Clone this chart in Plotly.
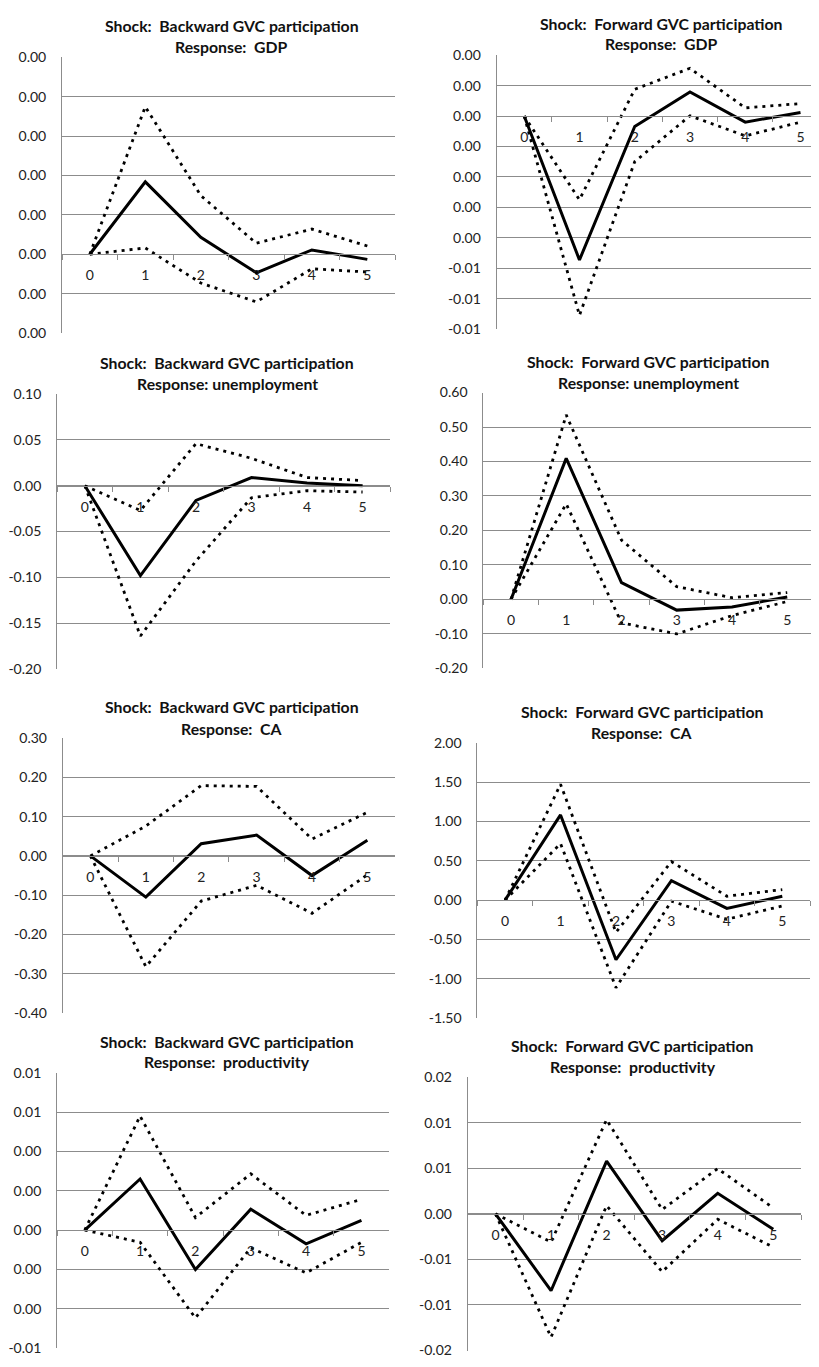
import plotly.graph_objects as go

# ---------------- data ----------------
periods = ["0", "1", "2", "3", "4", "5"]

# Backward GVC participation -> GDP
bwd_gdp_irf   = [0, 0.00092, 0.000215, -0.000235, 0.000055, -0.000065]
bwd_gdp_upper = [0, 0.001875, 0.000745, 0.00014, 0.00032, 0.000105]
bwd_gdp_lower = [0, 0.00008, -0.000365, -0.000605, -0.000185, -0.000225]
# Forward GVC participation -> GDP
fwd_gdp_irf   = [0, -0.00473, -0.00034, 0.00079, -0.0002, 0.00012]
fwd_gdp_upper = [0, -0.00275, 0.00088, 0.00157, 0.00027, 0.00041]
fwd_gdp_lower = [0, -0.00655, -0.0015, 0.00001, -0.00065, -0.0002]
# Backward -> unemployment
bwd_unemp_irf   = [0, -0.098, -0.016, 0.009, 0.003, 0.0]
bwd_unemp_upper = [0, -0.027, 0.046, 0.030, 0.009, 0.0057]
bwd_unemp_lower = [0, -0.164, -0.082, -0.013, -0.0054, -0.0068]
# Forward -> unemployment
fwd_unemp_irf   = [0, 0.409, 0.049, -0.031, -0.022, 0.007]
fwd_unemp_upper = [0, 0.535, 0.172, 0.037, 0.005, 0.02]
fwd_unemp_lower = [0, 0.277, -0.068, -0.10, -0.047, -0.006]
# Backward -> CA
bwd_ca_irf   = [0, -0.105, 0.031, 0.053, -0.050, 0.040]
bwd_ca_upper = [0, 0.076, 0.179, 0.177, 0.043, 0.111]
bwd_ca_lower = [0, -0.282, -0.115, -0.075, -0.146, -0.048]
# Forward -> CA
fwd_ca_irf   = [0, 1.085, -0.759, 0.247, -0.105, 0.05]
fwd_ca_upper = [0, 1.475, -0.41, 0.49, 0.05, 0.134]
fwd_ca_lower = [0, 0.72, -1.115, -0.013, -0.243, -0.075]
# Backward -> productivity
bwd_prod_irf   = [0, 0.0026, -0.002, 0.00106, -0.0007, 0.0005]
bwd_prod_upper = [0, 0.0058, 0.00064, 0.00286, 0.00075, 0.00156]
bwd_prod_lower = [0, -0.00062, -0.00447, -0.0009, -0.00218, -0.00062]
# Forward -> productivity
fwd_prod_irf   = [0, -0.00844, 0.00578, -0.00295, 0.00226, -0.0017]
fwd_prod_upper = [0, -0.0031, 0.01034, 0.00047, 0.00496, 0.00065]
fwd_prod_lower = [0, -0.01354, 0.0009, -0.00636, -0.0006, -0.00366]

# y tick values / labels (bottom to top)
bwd_gdp_ticks = [-0.001, -0.0005, 0, 0.0005, 0.001, 0.0015, 0.002, 0.0025]
bwd_gdp_labels = ["0.00", "0.00", "0.00", "0.00", "0.00", "0.00", "0.00", "0.00"]
fwd_gdp_ticks = [-0.007, -0.006, -0.005, -0.004, -0.003, -0.002, -0.001, 0, 0.001, 0.002]
fwd_gdp_labels = ["-0.01", "-0.01", "-0.01", "0.00", "0.00", "0.00", "0.00", "0.00", "0.00", "0.00"]
bwd_unemp_ticks = [-0.20, -0.15, -0.10, -0.05, 0, 0.05, 0.10]
bwd_unemp_labels = ["-0.20", "-0.15", "-0.10", "-0.05", "0.00", "0.05", "0.10"]
fwd_unemp_ticks = [-0.2, -0.1, 0, 0.1, 0.2, 0.3, 0.4, 0.5, 0.6]
fwd_unemp_labels = ["-0.20", "-0.10", "0.00", "0.10", "0.20", "0.30", "0.40", "0.50", "0.60"]
bwd_ca_ticks = [-0.4, -0.3, -0.2, -0.1, 0, 0.1, 0.2, 0.3]
bwd_ca_labels = ["-0.40", "-0.30", "-0.20", "-0.10", "0.00", "0.10", "0.20", "0.30"]
fwd_ca_ticks = [-1.5, -1.0, -0.5, 0, 0.5, 1.0, 1.5, 2.0]
fwd_ca_labels = ["-1.50", "-1.00", "-0.50", "0.00", "0.50", "1.00", "1.50", "2.00"]
bwd_prod_ticks = [-0.006, -0.004, -0.002, 0, 0.002, 0.004, 0.006, 0.008]
bwd_prod_labels = ["-0.01", "0.00", "0.00", "0.00", "0.00", "0.00", "0.01", "0.01"]
fwd_prod_ticks = [-0.015, -0.01, -0.005, 0, 0.005, 0.01, 0.015]
fwd_prod_labels = ["-0.02", "-0.01", "-0.01", "0.00", "0.01", "0.01", "0.02"]

shock_titles = ["Backward GVC participation", "Forward GVC participation"]
response_titles = ["GDP", "unemployment", "CA", "productivity"]

panels = [
    (bwd_gdp_irf, bwd_gdp_upper, bwd_gdp_lower, bwd_gdp_ticks, bwd_gdp_labels, 0, 0),
    (fwd_gdp_irf, fwd_gdp_upper, fwd_gdp_lower, fwd_gdp_ticks, fwd_gdp_labels, 1, 0),
    (bwd_unemp_irf, bwd_unemp_upper, bwd_unemp_lower, bwd_unemp_ticks, bwd_unemp_labels, 0, 1),
    (fwd_unemp_irf, fwd_unemp_upper, fwd_unemp_lower, fwd_unemp_ticks, fwd_unemp_labels, 1, 1),
    (bwd_ca_irf, bwd_ca_upper, bwd_ca_lower, bwd_ca_ticks, bwd_ca_labels, 0, 2),
    (fwd_ca_irf, fwd_ca_upper, fwd_ca_lower, fwd_ca_ticks, fwd_ca_labels, 1, 2),
    (bwd_prod_irf, bwd_prod_upper, bwd_prod_lower, bwd_prod_ticks, bwd_prod_labels, 0, 3),
    (fwd_prod_irf, fwd_prod_upper, fwd_prod_lower, fwd_prod_ticks, fwd_prod_labels, 1, 3),
]

# ---------------- layout geometry (page pixels) ----------------
PAGE_W, PAGE_H = 819, 1367
OFF = 8                      # default body margin of the html page
W, H = PAGE_W - 2 * OFF, PAGE_H - 2 * OFF   # figure size so the page does not scroll


def fx(px):
    return (px - OFF) / W


def fy(py):
    return 1 - (py - OFF) / H


# plot boxes: left, right, top, bottom, x-range right end
boxes = [
    (58.3, 393.0, 49.0, 328.0, 5.5),
    (495.0, 811.0, 46.7, 324.0, 5.19),
    (53.3, 388.3, 390.0, 668.3, 5.5),
    (481.7, 811.0, 388.3, 667.7, 5.43),
    (59.0, 393.0, 738.3, 1016.7, 5.5),
    (475.7, 810.0, 743.3, 1021.7, 5.5),
    (53.3, 387.0, 1077.3, 1356.0, 5.5),
    (466.0, 801.0, 1081.7, 1358.5, 5.5),
]
# title centre x, line1 y, line2 y
title_pos = [
    (229, 17, 38), (661, 15, 35),
    (224.5, 358, 379), (647.7, 356.7, 378.3),
    (229, 706.7, 728.3), (641.3, 711.7, 732.7),
    (224.5, 1045.7, 1066), (632, 1050, 1071),
]
resp_sep = {"GDP": "\u00a0 ", "unemployment": " ", "CA": "\u00a0 ", "productivity": "\u00a0 "}

FONT = "Lato"
GRID = "#8c8c8c"

fig = go.Figure()
annotations = []
for i, (irf, up, lo, ticks, labels, col, row) in enumerate(panels):
    n = i + 1
    xa = "x" if n == 1 else f"x{n}"
    ya = "y" if n == 1 else f"y{n}"
    for vals, dash, w in ((up, "3px,5px", 2.8), (lo, "3px,5px", 2.8), (irf, "solid", 3)):
        fig.add_trace(go.Scatter(x=periods, y=vals, mode="lines", xaxis=xa, yaxis=ya,
                                 line=dict(color="black", width=w, dash=dash),
                                 showlegend=False, hoverinfo="skip"))
    l, r, t, b, xr = boxes[i]
    ymin, ymax = ticks[0], ticks[-1]
    zero_px = t + (ymax - 0) / (ymax - ymin) * (b - t)
    xkey = "xaxis" if n == 1 else f"xaxis{n}"
    ykey = "yaxis" if n == 1 else f"yaxis{n}"
    fig.layout[xkey] = dict(
        domain=[fx(l), fx(r)], anchor="free", position=fy(zero_px),
        type="category", range=[-0.5, xr], tickson="boundaries",
        showgrid=False, zeroline=False, showline=True, linecolor=GRID, linewidth=1,
        ticks="outside", ticklen=5, tickcolor=GRID, ticklabelstandoff=8,
        tickfont=dict(family=FONT, size=14, color="#222"), fixedrange=True,
    )
    fig.layout[ykey] = dict(
        domain=[fy(b), fy(t)], anchor=xa, range=[ymin, ymax],
        tickvals=ticks, ticktext=labels, showgrid=True, gridcolor=GRID, gridwidth=1,
        zeroline=False, showline=True, linecolor=GRID, linewidth=1,
        ticks="", ticklabelstandoff=12,
        tickfont=dict(family=FONT, size=14, color="#222"), fixedrange=True,
    )
    cx, y1, y2 = title_pos[i]
    annotations.append(dict(text="<b>Shock:\u00a0 " + shock_titles[col] + "</b>",
                            x=fx(cx), y=fy(y1), xref="paper", yref="paper",
                            xanchor="center", yanchor="middle", showarrow=False,
                            font=dict(family=FONT, size=15.8, color="#111")))
    annotations.append(dict(text="<b>Response:" + resp_sep[response_titles[row]] + response_titles[row] + "</b>",
                            x=fx(cx), y=fy(y2), xref="paper", yref="paper",
                            xanchor="center", yanchor="middle", showarrow=False,
                            font=dict(family=FONT, size=15.8, color="#111")))

fig.update_layout(width=W, height=H, margin=dict(l=0, r=0, t=0, b=0),
                  paper_bgcolor="white", plot_bgcolor="white",
                  annotations=annotations, showlegend=False)

fig.write_html("out.html")
